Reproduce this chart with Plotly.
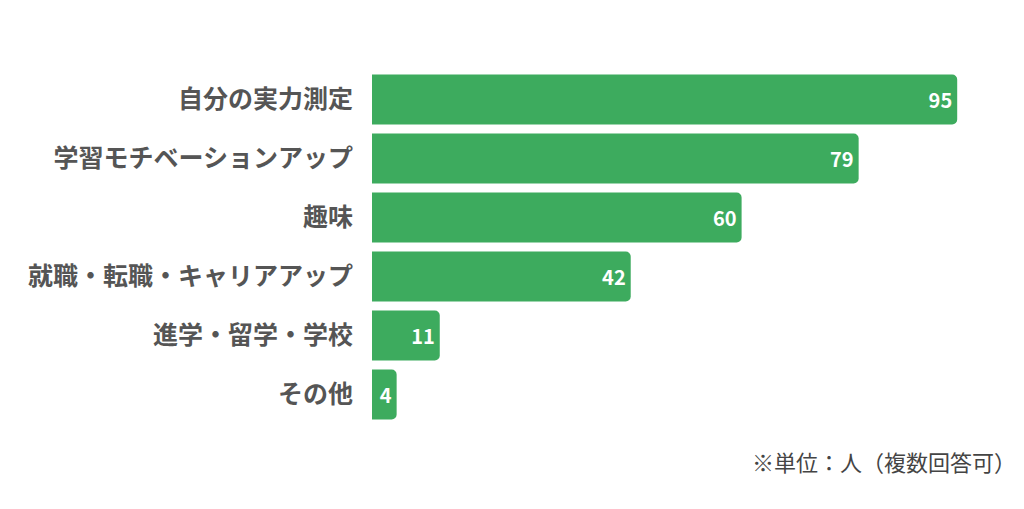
import plotly.graph_objects as go

# ─── DATOS ──────────────────────────────────────────────
categorias = [
    "自分の実力測定",
    "学習モチベーションアップ",
    "趣味",
    "就職・転職・キャリアアップ",
    "進学・留学・学校",
    "その他",
]
valores = [95, 79, 60, 42, 11, 4]
nota = "※単位：人（複数回答可）"

VERDE = "#3dab5e"
FUENTE = "Noto Sans CJK JP"

fig = go.Figure(
    go.Bar(
        x=valores,
        y=categorias,
        orientation="h",
        marker=dict(color=VERDE, line=dict(width=0)),
        text=valores,
        textposition="inside",
        insidetextanchor="end",
        textfont=dict(family=FUENTE, size=20, color="white", weight="bold"),
        hoverinfo="skip",
    )
)

fig.update_layout(
    width=1008,
    height=493,
    paper_bgcolor="white",
    plot_bgcolor="white",
    margin=dict(l=364, r=28, t=62, b=77),
    bargap=0.153,
    barcornerradius=5,
    showlegend=False,
    font=dict(family=FUENTE),
    annotations=[
        dict(
            text=nota,
            xref="paper", yref="paper",
            x=1.049, y=-0.104,
            xanchor="right", yanchor="middle",
            showarrow=False,
            font=dict(family=FUENTE, size=22, color="#444444"),
        )
    ],
)

fig.update_xaxes(range=[0, 100], visible=False, fixedrange=True)
fig.update_yaxes(
    autorange="reversed",
    showgrid=False,
    showline=False,
    zeroline=False,
    ticks="",
    ticklabelstandoff=18,
    tickfont=dict(family=FUENTE, size=25, color="#555555", weight="bold"),
    fixedrange=True,
)

fig.write_html("out.html")
